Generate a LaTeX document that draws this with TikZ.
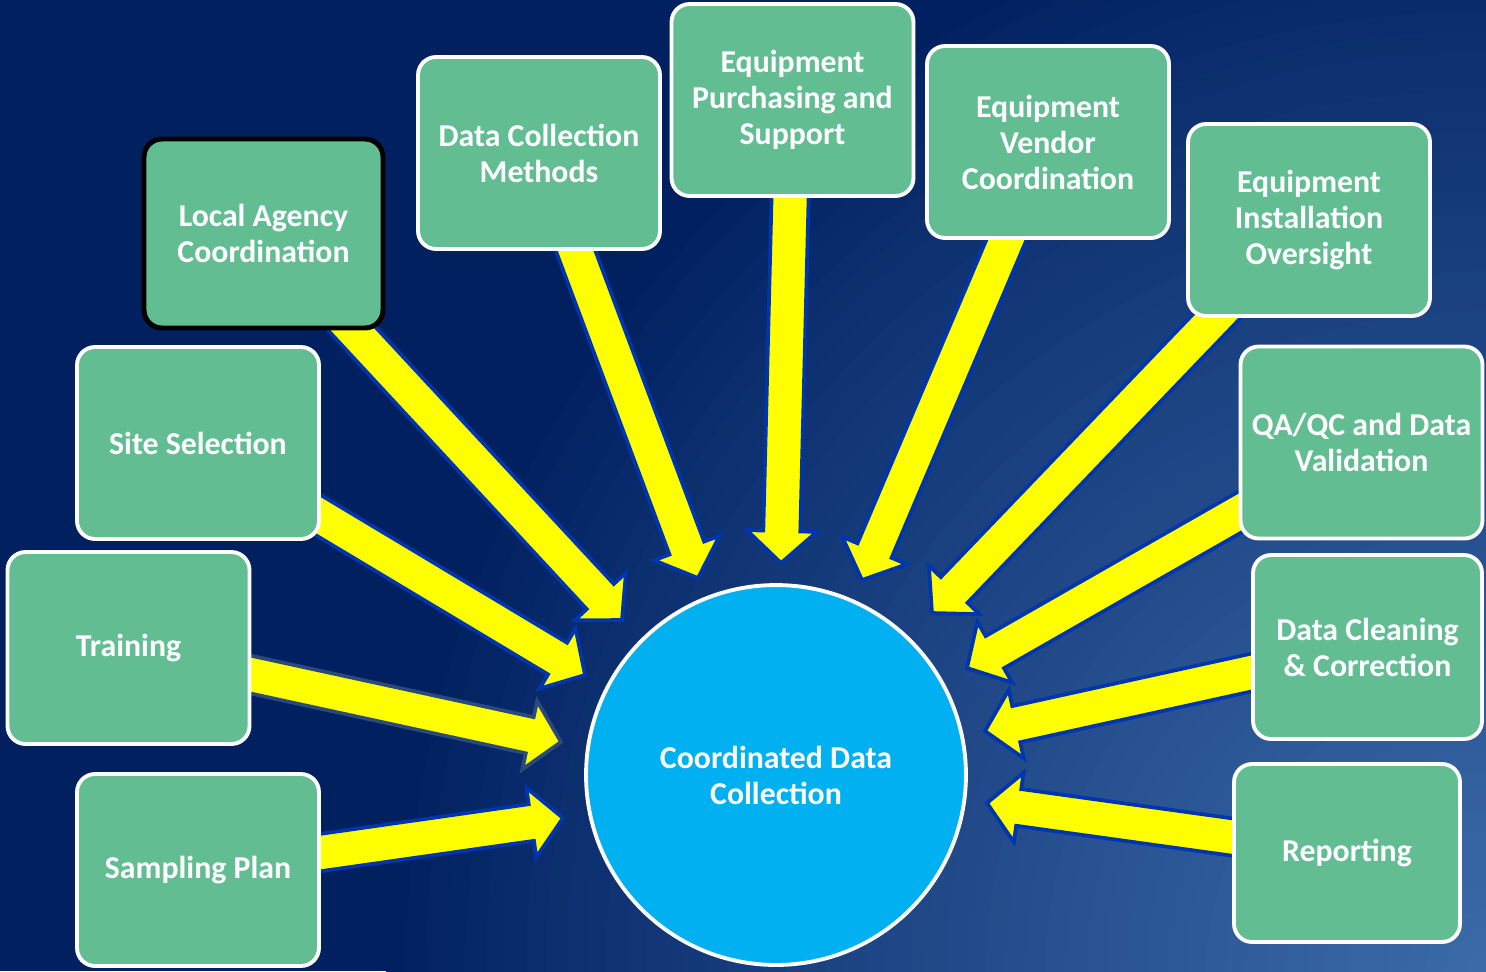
\documentclass[tikz,border=0pt]{standalone}
\usepackage{fontspec}
\setmainfont{Carlito}
\usetikzlibrary{calc}
\definecolor{navy}{HTML}{002060}
\definecolor{bgA}{HTML}{3C6BAA}
\definecolor{boxgreen}{HTML}{63BD93}
\definecolor{cyanfill}{HTML}{00B0F0}
\definecolor{arrline}{HTML}{0035B0}
\definecolor{arrgray}{HTML}{2B4A7C}
\definecolor{arrfill}{HTML}{FFFF00}
\pgfdeclarelayer{bg}
\pgfdeclarelayer{arr}
\pgfsetlayers{bg,arr,main}
\tikzset{
  box/.style={draw=white, line width=2.2pt, fill=boxgreen, rounded corners=0.36cm,
    minimum width=4.84cm, minimum height=3.84cm, inner sep=0pt, align=center,
    text=white, font=\bfseries\fontsize{18.1}{20.5}\selectfont},
  hub/.style={circle, draw=white, line width=2.2pt, fill=cyanfill, minimum size=7.6cm,
    inner sep=0pt, align=center, text=white, font=\bfseries\fontsize{18.1}{20.5}\selectfont},
  blockarr/.style={draw=arrline, line width=2.1pt, fill=arrfill, line join=miter}
}
\newcommand{\blockarrow}[3][]{%
  \coordinate (ahb) at ($(#3)!0.64cm!(#2)$);
  \draw[blockarr,#1] ($(#2)!0.37cm!90:(#3)$) -- ($(ahb)!0.37cm!90:(#3)$) -- ($(ahb)!0.70cm!90:(#3)$) -- (#3)
    -- ($(ahb)!0.70cm!-90:(#3)$) -- ($(ahb)!0.37cm!-90:(#3)$) -- ($(#2)!0.37cm!-90:(#3)$) -- cycle;
}
\begin{document}
\begin{tikzpicture}[x=0.02cm, y=-0.02cm]
\useasboundingbox (0,0) rectangle (1486,971);
\begin{pgfonlayer}{bg}
  \begin{scope}
    \clip (0,0) rectangle (1486,971);
    \fill[navy] (0,0) rectangle (1486,971);
    \foreach \r in {1100,1080,...,20}{
      \pgfmathsetmacro\pct{100*(1-\r/1100)^0.85}
      \pgfmathsetmacro\rr{\r*0.02}
      \fill[bgA!\pct!navy] (1486,971) circle (\rr cm);
    }
  \end{scope}
\end{pgfonlayer}

% boxes
\node[box, draw=black, line width=2.8pt, minimum width=4.78cm, minimum height=3.78cm] (la) at (263.5,233.5) {Local Agency\\Coordination};
\node[box] (dcm) at (539,153) {Data Collection\\Methods};
\node[box] (eps) at (792.5,100) {Equipment\\Purchasing and\\Support};
\node[box] (evc) at (1048,142) {Equipment\\Vendor\\Coordination};
\node[box] (eio) at (1309,220) {Equipment\\Installation\\Oversight};
\node[box] (qa) at (1361.5,442.5) {QA/QC and Data\\Validation};
\node[box, minimum width=4.58cm, minimum height=3.68cm] (dcc) at (1367.5,647) {Data Cleaning\\\& Correction};
\node[box, minimum width=4.52cm, minimum height=3.56cm] (rep) at (1347,853) {Reporting};
\node[box] (ss) at (198,443) {Site Selection};
\node[box] (tr) at (128.5,648) {Training};
\node[box] (sp) at (198,870) {Sampling Plan};

\node[hub] (hub) at (776,775) {Coordinated Data\\Collection};

% arrow tips
\coordinate (t1) at (622,620);
\coordinate (t2) at (698,578);
\coordinate (t3) at (781,563);
\coordinate (t4) at (862,580);
\coordinate (t5) at (932,613);
\coordinate (t6) at (967,668);
\coordinate (t7) at (985,731);
\coordinate (t8) at (987,803);
\coordinate (t9) at (585,675);
\coordinate (t10) at (561,742);
\coordinate (t11) at (563,818);

\begin{pgfonlayer}{arr}
  \blockarrow{la}{t1}
  \blockarrow{dcm}{t2}
  \blockarrow{eps}{t3}
  \blockarrow{evc}{t4}
  \blockarrow{eio}{t5}
  \blockarrow{qa}{t6}
  \blockarrow{dcc}{t7}
  \blockarrow{rep}{t8}
  \blockarrow{ss}{t9}
  \blockarrow[draw=arrgray]{tr}{t10}
  \blockarrow{sp}{t11}
\end{pgfonlayer}
\end{tikzpicture}
\end{document}
